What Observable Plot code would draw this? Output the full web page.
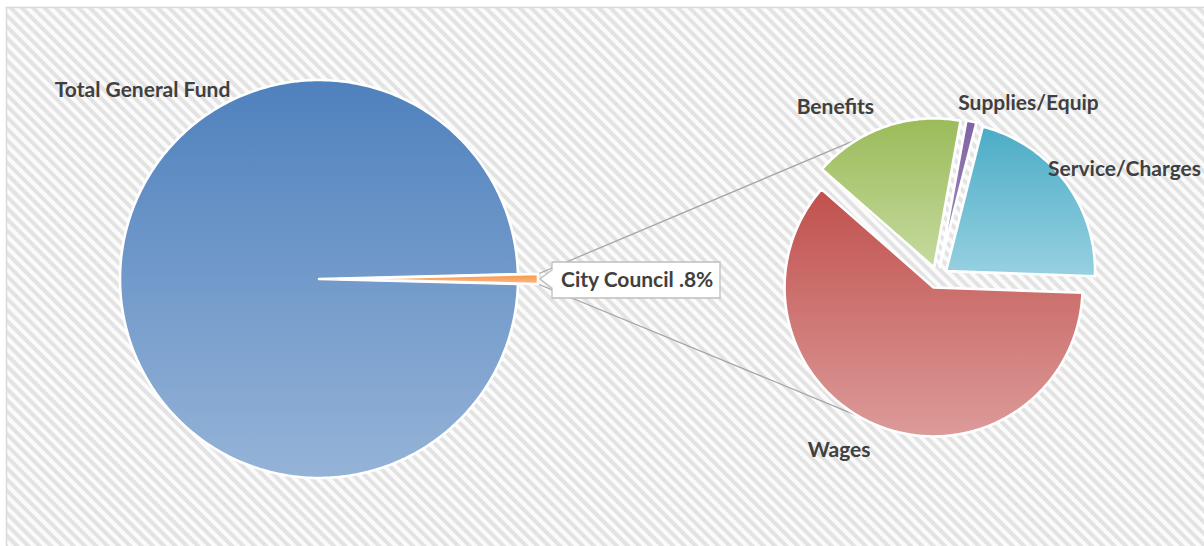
<!DOCTYPE html>
<html><head><meta charset="utf-8">
<script src="https://cdn.jsdelivr.net/npm/d3@7"></script>
<script src="https://cdn.jsdelivr.net/npm/@observablehq/plot@0.6"></script>
<style>
html,body{margin:0;padding:0;background:#fff;}
#chart svg{display:block;}
</style></head><body><div id="chart"></div>
<script>
// ---------------- DATA ----------------
const primaryCategories = ["Total General Fund", "City Council"];
const primaryValues = [99.2, 0.8];
const primaryLabels = ["Total General Fund", "City Council .8%"];

const secondaryCategories = ["Wages", "Benefits", "Supplies/Equip", "Service/Charges"];
const secondaryValues = [60.9, 16.4, 1.1, 21.6];
const secondaryLabels = ["Wages", "Benefits", "Supplies/Equip", "Service/Charges"];

// ---------------- STYLE / LAYOUT ----------------
const W = 1204, H = 546;
const primaryColors = [["#4f81bd", "#95b3d7"], ["#f79646", "#fab98a"]];
const secondaryColors = [["#c0504d", "#dc9b99"], ["#9bbb59", "#c6da9f"], ["#8064a2", "#a58fc2"], ["#4bacc6", "#97d1e1"]];
const primaryPie = {cx: 318.5, cy: 278.5, r: 199, explode: [0, 20]};
const secondaryPie = {cx: 937, cy: 277, r: 149, explode: 10.7, startDeg: 92};
// label placement: [angle deg (0 = north, clockwise), radius factor]
const primaryLabelPos = [[317, 1.30]];
const secondaryLabelPos = [[209.6, 1.336], [329.0, 1.331], [27.6, 1.318], [60.0, 1.449]];
const seriesLineAngles = [330, 210];
const textColor = "#404040";
const font = "Lato, 'Open Sans', sans-serif";
const fontSize = 21;

const rad = d => d * Math.PI / 180;
function pt(cx, cy, r, a) { return [cx + r * Math.sin(a), cy - r * Math.cos(a)]; }

function slicePolys(values, cats, startA, cx, cy, r, explode) {
  const arcs = d3.pie().sort(null).startAngle(startA).endAngle(startA + 2 * Math.PI)(values);
  return arcs.map((a, i) => {
    const m = (a.startAngle + a.endAngle) / 2;
    const e = Array.isArray(explode) ? explode[i] : explode;
    const ox = cx + e * Math.sin(m), oy = cy - e * Math.cos(m);
    const n = Math.max(4, Math.ceil((a.endAngle - a.startAngle) / rad(1)));
    const pts = [[ox, oy]];
    for (let k = 0; k <= n; k++) {
      const ang = a.startAngle + (a.endAngle - a.startAngle) * k / n;
      pts.push(pt(ox, oy, r, ang));
    }
    pts.push([ox, oy]);
    return {key: cats[i], i, arc: a, mid: m, ox, oy, e,
            rows: pts.map(([x, y]) => ({key: cats[i], x, y}))};
  });
}

// primary pie: the small slice is centred at 3 o'clock
const smallDeg = primaryValues[1] / d3.sum(primaryValues) * 360;
const primaryStart = rad(90 - (360 - smallDeg / 2));
const pSlices = slicePolys(primaryValues, primaryCategories, primaryStart,
  primaryPie.cx, primaryPie.cy, primaryPie.r, primaryPie.explode);
const sSlices = slicePolys(secondaryValues, secondaryCategories, rad(secondaryPie.startDeg),
  secondaryPie.cx, secondaryPie.cy, secondaryPie.r, secondaryPie.explode);

// series lines from the small slice's outer corners to the secondary pie
const small = pSlices[1];
const cornerA = pt(small.ox, small.oy, primaryPie.r, small.arc.startAngle);
const cornerB = pt(small.ox, small.oy, primaryPie.r, small.arc.endAngle);
const reach = secondaryPie.r + secondaryPie.explode;
const endTop = pt(secondaryPie.cx, secondaryPie.cy, reach, rad(seriesLineAngles[0]));
const endBot = pt(secondaryPie.cx, secondaryPie.cy, reach, rad(seriesLineAngles[1]));
const seriesLines = [
  {id: "top", x1: cornerA[0], y1: cornerA[1], x2: endTop[0], y2: endTop[1]},
  {id: "bot", x1: cornerB[0], y1: cornerB[1], x2: endBot[0], y2: endBot[1]}
];

// callout box for the small slice label
const tip = pt(small.ox, small.oy, primaryPie.r + 2, small.mid);
const boxL = tip[0] + 12, boxR = boxL + 168, boxT = tip[1] - 17, boxB = tip[1] + 19;
const callout = [[boxL, boxT], [boxR, boxT], [boxR, boxB], [boxL, boxB], [boxL, tip[1] + 9],
  [tip[0], tip[1]], [boxL, tip[1] - 9], [boxL, boxT]].map(([x, y]) => ({x, y}));

// labels
const centredLabels = [];
primaryLabelPos.forEach(([deg, f], i) => {
  const [x, y] = pt(primaryPie.cx, primaryPie.cy, primaryPie.r * f, rad(deg));
  centredLabels.push({text: primaryLabels[i], x, y});
});
secondaryLabelPos.forEach(([deg, f], i) => {
  const [x, y] = pt(secondaryPie.cx, secondaryPie.cy, secondaryPie.r * f, rad(deg));
  centredLabels.push({text: secondaryLabels[i], x, y});
});
const calloutLabel = [{text: primaryLabels[1], x: boxL + 9, y: tip[1] + 1}];

const gradId = (g, i) => `grad-${g}-${i}`;

const sliceMark = (s, g) => Plot.line(s.rows, {
  x: "x", y: "y", fill: `url(#${gradId(g, s.i)})`, stroke: "white", strokeWidth: 2.6,
  strokeLinejoin: "miter", strokeMiterlimit: 6, strokeLinecap: "round"
});
const textStyle = {fill: textColor, fontSize, fontWeight: "bold", fontFamily: font};

const chart = Plot.plot({
  width: W, height: H, margin: 0,
  style: {background: "white"},
  x: {domain: [0, W], range: [0, W], axis: null},
  y: {domain: [0, H], range: [0, H], axis: null},
  marks: [
    Plot.frame({fill: "url(#hatch)", stroke: "#d9d9d9", strokeWidth: 1.5,
      insetLeft: 6, insetTop: 7, insetRight: -4, insetBottom: -4}),
    Plot.link(seriesLines, {x1: "x1", y1: "y1", x2: "x2", y2: "y2", stroke: "#a6a6a6", strokeWidth: 1.3}),
    ...pSlices.map(s => sliceMark(s, "p")),
    ...sSlices.map(s => sliceMark(s, "s")),
    Plot.line(callout, {x: "x", y: "y", fill: "white", stroke: "#bfbfbf", strokeWidth: 1.3,
      strokeLinejoin: "miter", strokeMiterlimit: 10}),
    Plot.text(centredLabels, {x: "x", y: "y", text: "text", textAnchor: "middle", ...textStyle}),
    Plot.text(calloutLabel, {x: "x", y: "y", text: "text", textAnchor: "start", ...textStyle})
  ]
});

// defs: gradients + hatch pattern
const svgNS = "http://www.w3.org/2000/svg";
const defs = document.createElementNS(svgNS, "defs");
function addGrad(id, [c0, c1]) {
  const g = document.createElementNS(svgNS, "linearGradient");
  g.setAttribute("id", id);
  g.setAttribute("x1", "0"); g.setAttribute("y1", "0");
  g.setAttribute("x2", "0"); g.setAttribute("y2", "1");
  [[0, c0], [1, c1]].forEach(([o, c]) => {
    const s = document.createElementNS(svgNS, "stop");
    s.setAttribute("offset", o); s.setAttribute("stop-color", c);
    g.appendChild(s);
  });
  defs.appendChild(g);
}
primaryColors.forEach((c, i) => addGrad(gradId("p", i), c));
secondaryColors.forEach((c, i) => addGrad(gradId("s", i), c));
const pat = document.createElementNS(svgNS, "pattern");
pat.setAttribute("id", "hatch");
pat.setAttribute("patternUnits", "userSpaceOnUse");
pat.setAttribute("width", "8"); pat.setAttribute("height", "8");
pat.setAttribute("patternTransform", "rotate(-45)");
const r1 = document.createElementNS(svgNS, "rect");
r1.setAttribute("width", "8"); r1.setAttribute("height", "8"); r1.setAttribute("fill", "#fbfbfb");
const r2 = document.createElementNS(svgNS, "rect");
r2.setAttribute("width", "4"); r2.setAttribute("height", "8"); r2.setAttribute("fill", "#e3e3e3");
pat.appendChild(r1); pat.appendChild(r2);
defs.appendChild(pat);
chart.insertBefore(defs, chart.firstChild);

document.getElementById("chart").appendChild(chart);
</script>
</body></html>
